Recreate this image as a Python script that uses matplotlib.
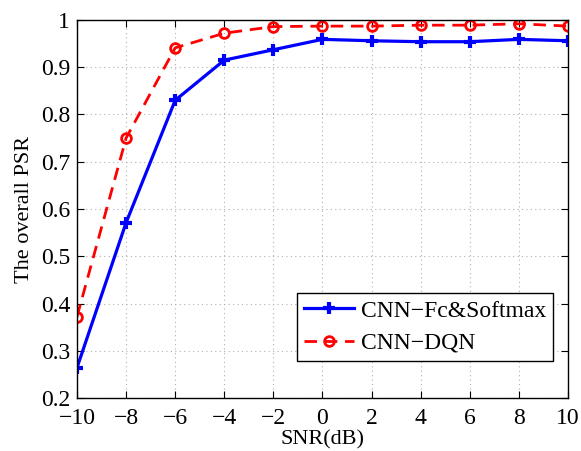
import matplotlib.pyplot as plt

plt.rcParams["font.family"] = ["Liberation Serif", "DejaVu Serif"]

snr = [-10, -8, -6, -4, -2, 0, 2, 4, 6, 8, 10]
psr_softmax = [0.264, 0.571, 0.830, 0.915, 0.937, 0.959, 0.956, 0.954, 0.954, 0.959, 0.956]
psr_dqn = [0.372, 0.750, 0.941, 0.972, 0.986, 0.987, 0.987, 0.989, 0.989, 0.992, 0.987]

x_labels = ["\u221210", "\u22128", "\u22126", "\u22124", "\u22122", "0", "2", "4", "6", "8", "10"]
y_ticks = [0.2, 0.3, 0.4, 0.5, 0.6, 0.7, 0.8, 0.9, 1.0]
y_labels = ["0.2", "0.3", "0.4", "0.5", "0.6", "0.7", "0.8", "0.9", "1"]

fig = plt.figure(figsize=(5.81, 4.51), dpi=100)
ax = fig.add_axes([0.1325, 0.1175, 0.845, 0.8382])

ax.plot(snr, psr_softmax, color="#0000ff", linewidth=2.3, marker="+",
        markersize=9, markeredgewidth=3, label="CNN\u2212Fc&Softmax")
ax.plot(snr, psr_dqn, color="#ff0000", linewidth=2.0, linestyle=(0, (4.5, 2.8)),
        marker="o", markersize=7, markerfacecolor="none", markeredgewidth=2,
        label="CNN\u2212DQN")

ax.set_xlim(-10, 10)
ax.set_ylim(0.2, 1)
ax.set_xticks(snr)
ax.set_xticklabels(x_labels)
ax.set_yticks(y_ticks)
ax.set_yticklabels(y_labels)
ax.tick_params(direction="in", top=True, right=True, labelsize=17, length=5, width=0.8)
ax.tick_params(axis="x", pad=7)
ax.tick_params(axis="y", pad=5)
ax.grid(True, color="#b0b0b0", linestyle=(0, (1, 3)), linewidth=0.8)

ax.set_xlabel("SNR(dB)", fontsize=16, labelpad=1)
ax.set_ylabel("The overall PSR", fontsize=16, labelpad=5)

for s in ax.spines.values():
    s.set_linewidth(1.0)

leg = ax.legend(loc="lower right", bbox_to_anchor=(0.97, 0.098), fontsize=17,
                fancybox=False, framealpha=1, edgecolor="black",
                handlelength=2.1, borderpad=0.3, labelspacing=0.45, handletextpad=0.3,
                borderaxespad=0)
leg.get_frame().set_linewidth(1.0)

fig.savefig("out.png", dpi=100)
